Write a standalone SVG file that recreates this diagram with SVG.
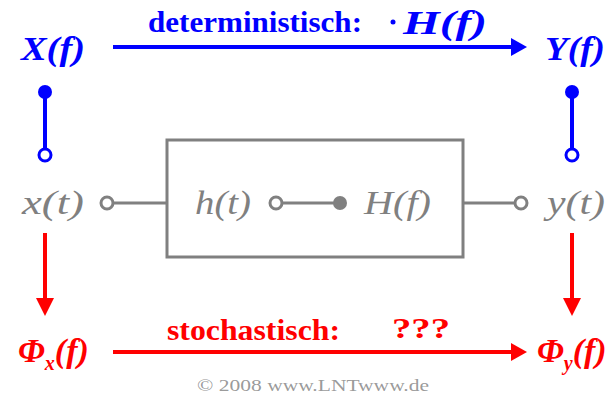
<svg xmlns="http://www.w3.org/2000/svg" width="607" height="401" viewBox="0 0 607 401">
<style>
.t{font-family:"Liberation Serif","DejaVu Serif","Times New Roman",serif;}
.bi{font-weight:bold;font-style:italic;}
.b{font-weight:bold;}
.i{font-style:italic;}
.blue{fill:#0000ff;}
.red{fill:#ff0000;}
.gray{fill:#808080;}
.lb{stroke:#0000ff;stroke-width:4;fill:none;}
.lr{stroke:#ff0000;stroke-width:4;fill:none;}
.lg{stroke:#808080;stroke-width:3;fill:none;}
.og{stroke:#808080;stroke-width:3;fill:#ffffff;}
.ob{stroke:#0000ff;stroke-width:3;fill:#ffffff;}
</style>
<rect width="607" height="401" fill="#ffffff"/>
<g id="connectors">
<path d="M113,47 H511" class="lb"/>
<path d="M511,38 L527,47 L511,56 Z" fill="#0000ff"/>
<path d="M113,352 H511" class="lr"/>
<path d="M511,343 L527,352 L511,361 Z" fill="#ff0000"/>
<path d="M45,92 V149" class="lb"/>
<path d="M572,92 V149" class="lb"/>
<path d="M45,233 V300" class="lr"/>
<path d="M36,298 L45,316 L54,298 Z" fill="#ff0000"/>
<path d="M572,233 V300" class="lr"/>
<path d="M563,298 L572,316 L581,298 Z" fill="#ff0000"/>
<path d="M113,203 H167" class="lg"/>
<path d="M282,203 H335" class="lg"/>
<path d="M463,203 H515" class="lg"/>
</g>
<g id="labelTop">
<text x="148" y="32" class="t b blue" font-size="29" textLength="214" lengthAdjust="spacingAndGlyphs">deterministisch:</text>
<circle cx="393" cy="22" r="2.5" fill="#0000ff"/>
<text x="403" y="34" class="t bi blue" font-size="34" textLength="84" lengthAdjust="spacingAndGlyphs">H(f)</text>
</g>
<g id="labelBottom">
<text x="167" y="340" class="t b red" font-size="29" textLength="173" lengthAdjust="spacingAndGlyphs">stochastisch:</text>
<text x="392" y="338" class="t b red" font-size="30" textLength="58" lengthAdjust="spacingAndGlyphs">???</text>
</g>
<g id="Xf"><text x="21" y="60" class="t bi blue" font-size="34" textLength="64" lengthAdjust="spacingAndGlyphs">X(f)</text></g>
<g id="Yf"><text x="545" y="60" class="t bi blue" font-size="34" textLength="60" lengthAdjust="spacingAndGlyphs">Y(f)</text></g>
<g id="linkL"><circle cx="45" cy="92" r="7" fill="#0000ff"/><circle cx="45" cy="155" r="6" class="ob"/></g>
<g id="linkR"><circle cx="572" cy="92" r="7" fill="#0000ff"/><circle cx="572" cy="155" r="6" class="ob"/></g>
<g id="xt"><text x="22" y="214" class="t i gray" font-size="33" textLength="62" lengthAdjust="spacingAndGlyphs">x(t)</text><circle cx="107" cy="203" r="6" class="og"/></g>
<g id="system">
<rect x="167" y="140" width="296" height="117" class="lg"/>
<text x="195" y="214" class="t i gray" font-size="33" textLength="56" lengthAdjust="spacingAndGlyphs">h(t)</text>
<circle cx="276" cy="203" r="6" class="og"/>
<circle cx="340" cy="203" r="7" fill="#808080"/>
<text x="364" y="214" class="t i gray" font-size="33" textLength="67" lengthAdjust="spacingAndGlyphs">H(f)</text>
</g>
<g id="yt"><circle cx="521" cy="203" r="6" class="og"/><text x="547" y="214" class="t i gray" font-size="33" textLength="58" lengthAdjust="spacingAndGlyphs">y(t)</text></g>
<g id="Phix"><text x="18" y="362" class="t bi red" font-size="34">Φ<tspan font-size="20" dy="8">x</tspan><tspan dy="-8">(f)</tspan></text></g>
<g id="Phiy"><text x="537" y="362" class="t bi red" font-size="34">Φ<tspan font-size="20" dy="8">y</tspan><tspan dy="-8">(f)</tspan></text></g>
<text x="197" y="391" class="t gray" font-size="17" fill-opacity="0.8" textLength="232" lengthAdjust="spacingAndGlyphs">© 2008 www.LNTwww.de</text>
</svg>
